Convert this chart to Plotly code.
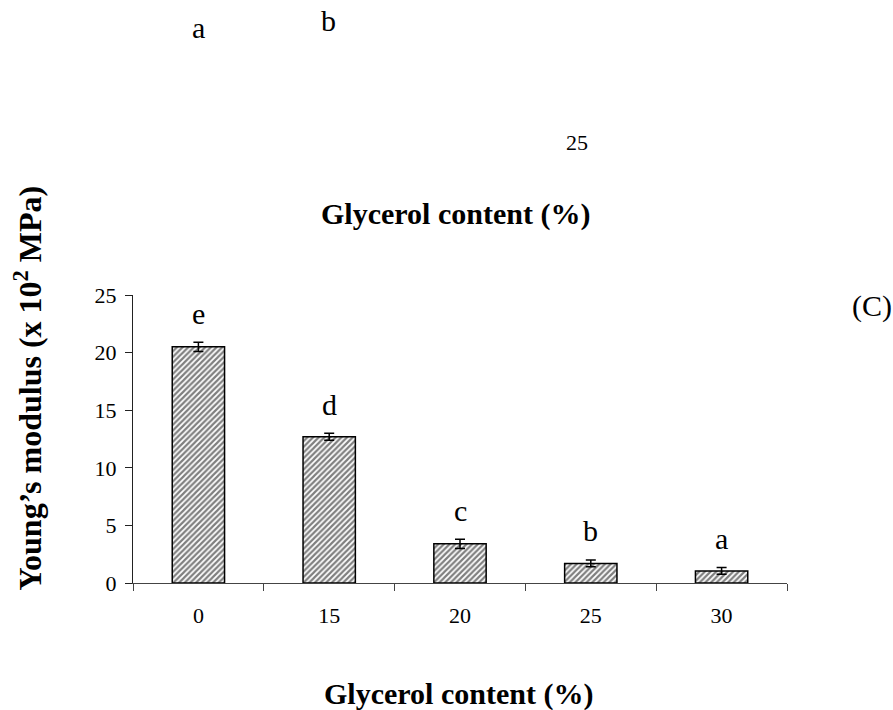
import plotly.graph_objects as go

categories = ["0", "15", "20", "25", "30"]
modulus = [20.5, 12.7, 3.4, 1.7, 1.05]
errors = [0.4, 0.3, 0.4, 0.3, 0.3]
letters = ["e", "d", "c", "b", "a"]
y_ticks = [0, 5, 10, 15, 20, 25]

W, H = 893, 710
L, R, T, B = 133, 106, 295, 127
PW, PH = W - L - R, H - T - B

def px(x):
    return (x - L) / PW

def py(y):
    return (H - B - y) / PH

FONT = "Liberation Serif"

fig = go.Figure()
fig.add_trace(go.Bar(
    x=categories, y=modulus,
    width=0.4,
    marker=dict(color="white",
                line=dict(color="black", width=1.5),
                pattern=dict(shape="/", size=4, solidity=0.55,
                             fgcolor="black", bgcolor="white")),
    error_y=dict(type="data", array=errors, visible=True,
                 color="black", thickness=1.5, width=5),
    showlegend=False,
))

def txt(x, y, text, size, bold=False, **kw):
    d = dict(x=px(x), y=py(y), xref="paper", yref="paper",
             text=f"<b>{text}</b>" if bold else text, showarrow=False,
             xanchor=kw.pop("xanchor", "center"), yanchor=kw.pop("yanchor", "middle"),
             font=dict(family=FONT, size=size, color="black"))
    d.update(kw)
    return d

ann = []
for i, (v, e, t) in enumerate(zip(modulus, errors, letters)):
    ann.append(dict(x=i, y=v + e, xref="x", yref="y", text=t, showarrow=False,
                    xanchor="center", yanchor="middle", yshift=29,
                    font=dict(family=FONT, size=30, color="black")))

# stray texts at the top of the figure
ann.append(txt(198, 27, "a", 30))
ann.append(txt(328, 20, "b", 30))
ann.append(txt(590, 142, "25", 22, xanchor="right"))
ann.append(txt(455, 214, "Glycerol content (%)", 30, bold=True))
ann.append(txt(850, 306, "(C)", 30, xanchor="left"))
ann.append(txt(458, 694, "Glycerol content (%)", 30, bold=True))
ann.append(txt(27, 593, "Young’s modulus (x 10<sup>2</sup> MPa)", 32, bold=True,
               textangle=-90, yanchor="bottom"))

fig.update_layout(
    width=W, height=H,
    margin=dict(l=L, r=R, t=T, b=B, pad=0),
    paper_bgcolor="white", plot_bgcolor="white",
    annotations=ann,
    xaxis=dict(type="category", range=[-0.5, 4.5], showline=True, linecolor="#444",
               linewidth=1.3, ticks="outside", tickson="boundaries", ticklen=7,
               tickcolor="#444", tickwidth=1.3, showgrid=False, zeroline=False,
               tickangle=0, ticklabelstandoff=12,
               tickfont=dict(family=FONT, size=22, color="black")),
    yaxis=dict(range=[0, 25], tickvals=y_ticks, showline=True, linecolor="#222",
               linewidth=1.3, ticks="outside", ticklen=7, tickcolor="#222",
               tickwidth=1.3, showgrid=False, zeroline=False, ticklabelstandoff=4,
               tickfont=dict(family=FONT, size=22, color="black")),
)

fig.write_html("out.html")
